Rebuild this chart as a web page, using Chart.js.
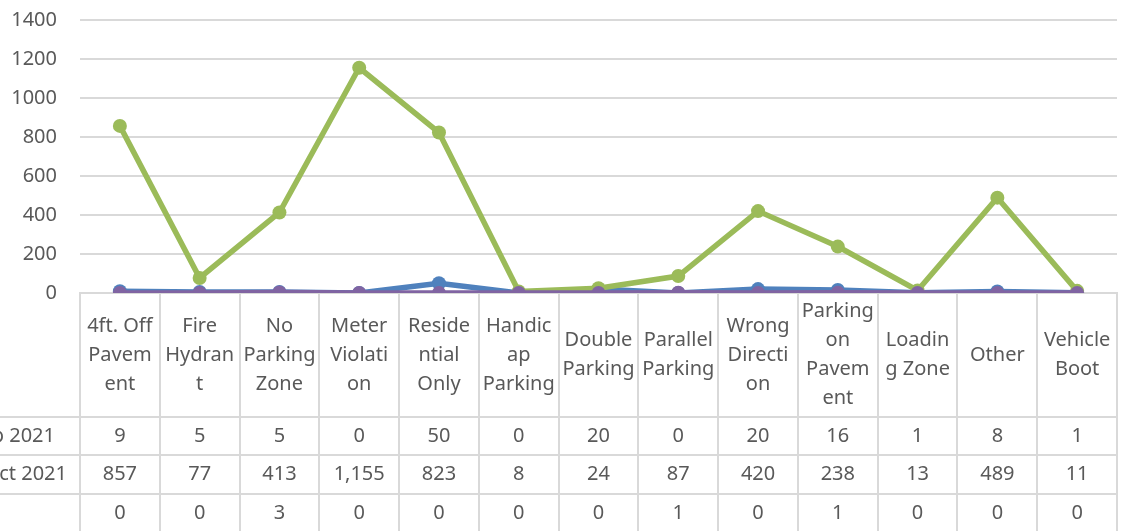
<!DOCTYPE html>
<html>
<head>
<meta charset="utf-8">
<script src="https://cdn.jsdelivr.net/npm/chart.js@4"></script>
<style>
  html, body { margin: 0; padding: 0; background: #fff; }
  #wrap { width: 1125px; height: 531px; overflow: hidden; }
  #myChart { margin-top: -15px; display: block; }
</style>
</head>
<body>
<div id="wrap"><canvas id="myChart" width="1125" height="546"></canvas></div>
<script>
const ctx = document.getElementById('myChart');

// category labels, already split the way the table cell wraps them
const categories = [
    ["4ft. Off", "Pavem", "ent"],
    ["Fire", "Hydran", "t"],
    ["No", "Parking", "Zone"],
    ["Meter", "Violati", "on"],
    ["Reside", "ntial", "Only"],
    ["Handic", "ap", "Parking"],
    ["Double", "Parking"],
    ["Parallel", "Parking"],
    ["Wrong", "Directi", "on"],
    ["Parking", "on", "Pavem", "ent"],
    ["Loadin", "g Zone"],
    ["Other"],
    ["Vehicle", "Boot"]
];

const seriesNames = ["Sep 2021", "Oct 2021", ""];
const sepValues = [9, 5, 5, 0, 50, 0, 20, 0, 20, 16, 1, 8, 1];
const octValues = [857, 77, 413, 1155, 823, 8, 24, 87, 420, 238, 13, 489, 11];
const thirdValues = [0, 0, 3, 0, 0, 0, 0, 1, 0, 1, 0, 0, 0];
const yTicks = [0, 200, 400, 600, 800, 1000, 1200, 1400];

const colors = ["#4f81bd", "#9bbb59", "#8064a2"];
const textColor = "#595959";
const lineColor = "#d9d9d9";
const font = "20px 'Noto Sans'";

function fmt(v) {
    return v.toLocaleString('en-US');
}

// draws the Excel-style data table under the plot
const dataTable = {
    id: 'dataTable',
    afterDraw(chart) {
        const c = chart.ctx;
        const x = chart.scales.x;
        const area = chart.chartArea;
        const top = area.bottom;
        const rows = [top + 124, top + 162, top + 201];
        const bottom = chart.height + 5;
        const n = categories.length;
        const step = (area.right - area.left) / n;
        // the row names are cut off at the left edge in the original
        const nameRight = [55, 67, 67];

        c.save();
        c.strokeStyle = lineColor;
        c.lineWidth = 2;
        // vertical lines
        for (let i = 0; i <= n; i++) {
            const lx = Math.round(area.left + i * step);
            c.beginPath();
            c.moveTo(lx, top);
            c.lineTo(lx, bottom);
            c.stroke();
        }
        // horizontal lines
        rows.forEach(ry => {
            c.beginPath();
            c.moveTo(0, ry);
            c.lineTo(area.right, ry);
            c.stroke();
        });

        c.font = font;
        c.fillStyle = textColor;
        c.textAlign = 'center';
        c.textBaseline = 'middle';
        const headMid = (top + rows[0]) / 2;
        const lh = 29;
        categories.forEach((lines, i) => {
            const cx = x.getPixelForValue(i);
            const y0 = headMid - (lines.length - 1) * lh / 2;
            lines.forEach((t, k) => c.fillText(t, cx, y0 + k * lh));
        });

        const rowData = [sepValues, octValues, thirdValues];
        const rowMid = [(rows[0] + rows[1]) / 2, (rows[1] + rows[2]) / 2, rows[2] + 19];
        rowData.forEach((vals, r) => {
            c.textAlign = 'center';
            vals.forEach((v, i) => c.fillText(fmt(v), x.getPixelForValue(i), rowMid[r]));
            c.textAlign = 'right';
            c.fillText(seriesNames[r], nameRight[r], rowMid[r]);
        });
        c.restore();
    }
};

const mk = (label, values, color, order) => ({
    label: label,
    data: values,
    borderColor: color,
    backgroundColor: color,
    borderWidth: 5.5,
    pointRadius: 7,
    pointHoverRadius: 7,
    pointBorderWidth: 0,
    tension: 0,
    fill: false,
    order: order
});

new Chart(ctx, {
    type: 'line',
    data: {
        labels: categories.map(l => l.join(' ')),
        datasets: [
            mk(seriesNames[0], sepValues, colors[0], 3),
            mk(seriesNames[1], octValues, colors[1], 2),
            mk(seriesNames[2], thirdValues, colors[2], 1)
        ]
    },
    options: {
        responsive: false,
        animation: false,
        layout: { padding: { top: 4, right: 8, bottom: 230, left: 0 } },
        plugins: {
            legend: { display: false },
            tooltip: { enabled: false }
        },
        scales: {
            x: {
                offset: true,
                ticks: { display: false },
                grid: { display: false },
                border: { display: true, color: lineColor, width: 2 }
            },
            y: {
                min: 0,
                max: 1400,
                afterFit(scale) { scale.width = 80; },
                afterBuildTicks(scale) { scale.ticks = yTicks.map(v => ({ value: v })); },
                ticks: {
                    color: textColor,
                    font: { family: 'Noto Sans', size: 20 },
                    padding: 23,
                    callback: v => String(v)
                },
                grid: { color: lineColor, lineWidth: 2, drawTicks: false },
                border: { display: false }
            }
        }
    },
    plugins: [dataTable]
});
</script>
</body>
</html>
